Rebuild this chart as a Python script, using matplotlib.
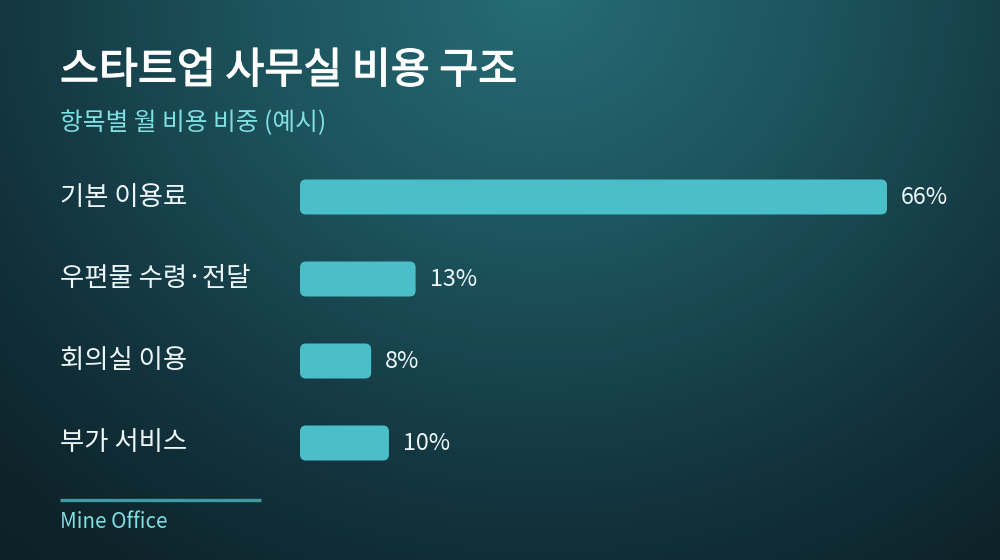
import numpy as np
import matplotlib
matplotlib.use("Agg")
import matplotlib.pyplot as plt
import matplotlib.patheffects as pe
from matplotlib.patches import FancyBboxPatch
from matplotlib.colors import LinearSegmentedColormap

plt.rcParams['font.family'] = ['Noto Sans CJK KR', 'DejaVu Sans']

title = "스타트업 사무실 비용 구조"
subtitle = "항목별 월 비용 비중 (예시)"
categories = ["기본 이용료", "우편물 수령·전달", "회의실 이용", "부가 서비스"]
values = [66, 13, 8, 10]
value_labels = ["66%", "13%", "8%", "10%"]
source = "Mine Office"

W, H = 1000, 560
fig = plt.figure(figsize=(W / 100, H / 100), dpi=100)

# background radial gradient
bg = fig.add_axes([0, 0, 1, 1])
bg.set_axis_off()
yy, xx = np.mgrid[0:H, 0:W]
d = np.sqrt(((xx - 540) / 680.0) ** 2 + ((yy + 10) / 620.0) ** 2)
cmap = LinearSegmentedColormap.from_list(
    "bg", [(0.0, "#266c76"), (0.3, "#1c515a"), (0.53, "#133640"), (0.73, "#0e242b"), (1.0, "#0b1b20")])
bg.imshow(np.clip(d / 1.5, 0, 1), cmap=cmap, vmin=0, vmax=1, extent=[0, W, H, 0],
          aspect='auto', interpolation='bilinear')
bg.set_xlim(0, W)
bg.set_ylim(H, 0)

# bar axes: x=0 at px 300, 66 at px 887; rows centred at 197, 279, 361, 443
px_per_unit = (887 - 300) / 66.0
row = 82.0
ax_left, ax_right = 300, 1000
ax_top, ax_bot = 197 - row / 2, 443 + row / 2
ax = fig.add_axes([ax_left / W, 1 - ax_bot / H, (ax_right - ax_left) / W, (ax_bot - ax_top) / H])
ax.set_axis_off()
ax.patch.set_alpha(0)
ax.set_xlim(0, (ax_right - ax_left) / px_per_unit)
ax.set_ylim(len(categories) - 0.5, -0.5)

bar_h = 35.0 / row
ypos = np.arange(len(categories))
bars = ax.barh(ypos, values, height=bar_h, color='none')
r_px = 6.0
r_x = r_px / px_per_unit
aspect = (1.0 / row) / (1.0 / px_per_unit)
for rect in bars:
    x0, y0 = rect.get_x(), rect.get_y()
    w, h = rect.get_width(), rect.get_height()
    p = FancyBboxPatch((x0, y0), w, h,
                       boxstyle=f"round,pad=0,rounding_size={r_x}",
                       mutation_aspect=aspect, facecolor="#4bbfc9", edgecolor='none')
    ax.add_patch(p)

off = 14.0 / px_per_unit
for yv, v, lab in zip(ypos, values, value_labels):
    ax.text(v + off, yv, lab, va='center', ha='left', fontsize=16.8, color='#eef7f8')

# category labels
for yv, cat in zip(ypos, categories):
    ypx = 197 + yv * row
    fig.text(60 / W, 1 - ypx / H, cat, va='center', ha='left', fontsize=19, color='#eef6f7')

# titles
fig.text(60 / W, 1 - 71 / H, title, va='center', ha='left', fontsize=30.5, color='#ffffff',
         path_effects=[pe.withStroke(linewidth=0.9, foreground='#ffffff')])
fig.text(60 / W, 1 - 123 / H, subtitle, va='center', ha='left', fontsize=17.8, color='#7fe0e2')

# footer
bg.plot([60, 261], [500, 500], color='#3f9aa2', lw=2.4, solid_capstyle='butt')
fig.text(60 / W, 1 - 522 / H, source, va='center', ha='left', fontsize=14.8, color='#7fe0e2')

fig.savefig("out.png", dpi=100)
